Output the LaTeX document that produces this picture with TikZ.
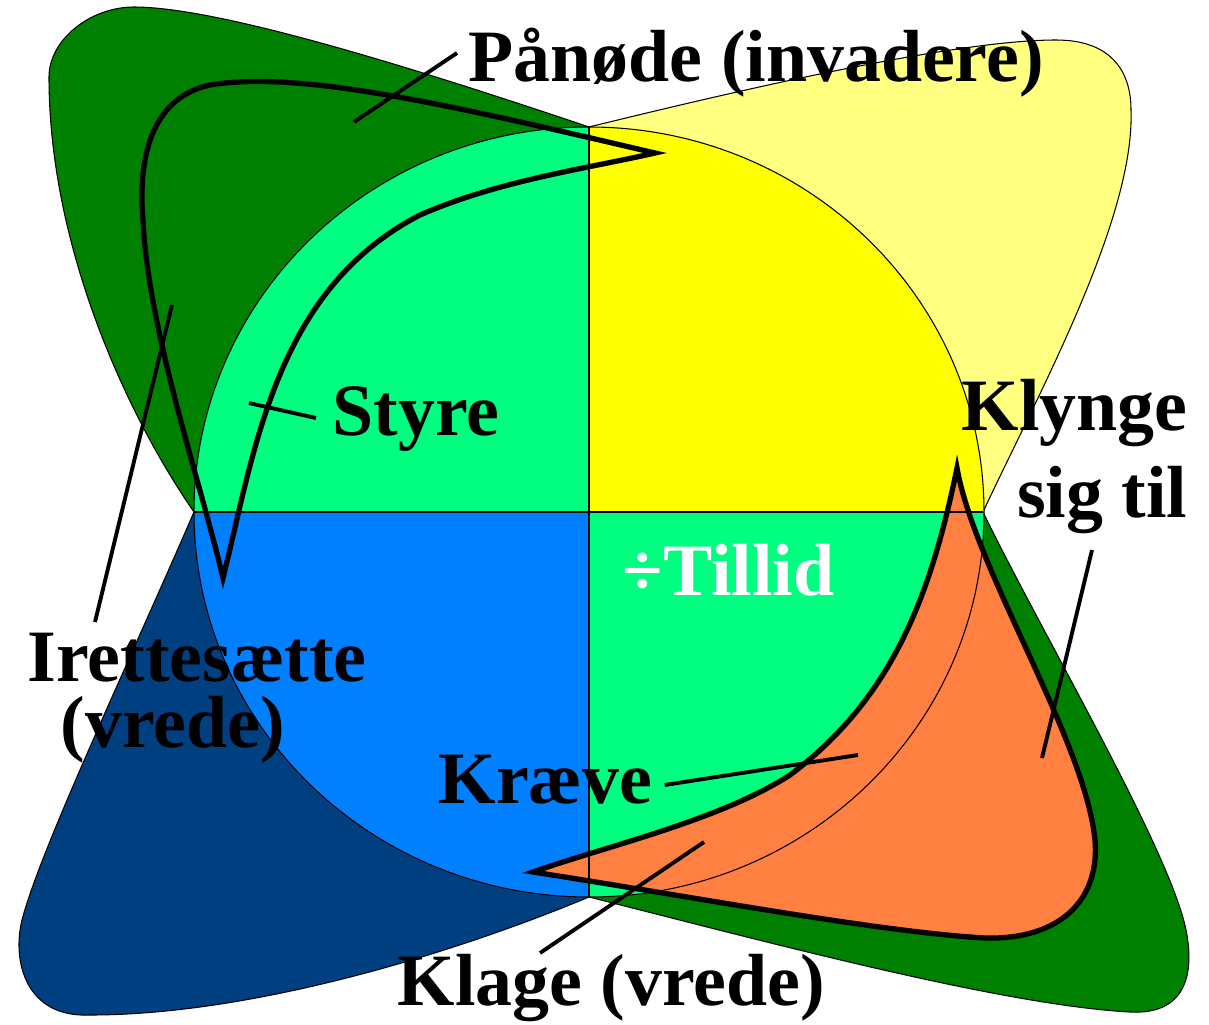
\documentclass[tikz,border=0pt]{standalone}
\usepackage{fontspec}
\setmainfont{Liberation Serif}
\definecolor{petalgreen}{RGB}{0,128,0}
\definecolor{petalyellow}{RGB}{255,255,128}
\definecolor{petalblue}{RGB}{0,64,128}
\definecolor{quadgreen}{RGB}{0,255,128}
\definecolor{quadyellow}{RGB}{255,255,0}
\definecolor{quadblue}{RGB}{0,128,255}
\definecolor{klyngeorange}{RGB}{255,128,64}
\begin{document}
\begin{tikzpicture}[x=0.01cm, y=-0.01cm, thinline/.style={line width=0.3pt},
    word/.style={font=\bfseries\fontsize{21}{25}\selectfont, inner sep=0pt},
    leader/.style={line width=1.1pt}, heavy/.style={line width=1.5pt, line join=miter}]
    \useasboundingbox (0,0) rectangle (1209,1024);
    \filldraw[thinline, fill=petalgreen] (589,127) .. controls (420,70) and (220,7) .. (134,7) .. controls (90,7) and (49,40) .. (49,77)
        .. controls (49,250) and (130,420) .. (194,512) -- cycle;
    \filldraw[thinline, fill=petalyellow] (589,127) .. controls (760,85) and (960,40) .. (1056,40) .. controls (1110,40) and (1131,70) .. (1131,110)
        .. controls (1135,220) and (1035,400) .. (983,512) -- cycle;
    \filldraw[thinline, fill=petalblue] (194,512) .. controls (130,660) and (40,850) .. (22,920) .. controls (12,960) and (25,1018) .. (90,1015)
        .. controls (250,1015) and (450,955) .. (589,897) -- cycle;
    \filldraw[thinline, fill=petalgreen] (983,512) .. controls (1040,630) and (1170,850) .. (1186,930) .. controls (1195,975) and (1185,1015) .. (1130,1012)
        .. controls (1000,1005) and (760,940) .. (589,897) -- cycle;
    \foreach \xa/\ya/\xb/\yb/\qc in {0/0/589/512/quadgreen, 589/0/1209/512/quadyellow, 0/512/589/1024/quadblue, 589/512/1209/1024/quadgreen}{
        \begin{scope}
            \clip (\xa,\ya) rectangle (\xb,\yb);
            \fill[\qc] (589,512) ellipse [x radius=395, y radius=385];
        \end{scope}
    }
    \path[save path=\klyngepath] (957,468) .. controls (930,600) and (890,700) .. (790,775) .. controls (720,820) and (610,845) .. (533,872)
        .. controls (700,898) and (880,932) .. (985,938) .. controls (1060,940) and (1100,900) .. (1095,840) .. controls (1085,740) and (975,570) .. (957,468) -- cycle;
    \fill[klyngeorange, use path=\klyngepath];
    \draw[thinline] (589,512) ellipse [x radius=395, y radius=385];
    \draw[thinline] (194,512) -- (983,512) (589,127) -- (589,897);
    \draw[heavy] (655,153) .. controls (450,105) and (300,70) .. (210,85) .. controls (150,98) and (138,160) .. (143,220)
        .. controls (148,330) and (200,480) .. (223,578) .. controls (255,450) and (275,290) .. (420,215) .. controls (500,180) and (590,168) .. (655,153) -- cycle;
    \draw[heavy, use path=\klyngepath];

    \node[word, anchor=base west] (panode) at (468,81) {Pånøde (invadere)};
    \node[word, anchor=base west] (styre) at (332,435) {Styre};
    \node[word, anchor=base east] (klynge) at (1188,430) {Klynge};
    \node[word, anchor=base east] (sigtil) at (1188,517) {sig til};
    \node[word, anchor=base west, text=white] (tillid) at (622,595) {÷Tillid};
    \node[word, anchor=base west] (irette) at (27,681) {Irettesætte};
    \node[word, anchor=base west] (vrede) at (60,747) {(vrede)};
    \node[word, anchor=base west] (kraeve) at (438,803) {Kræve};
    \node[word, anchor=base west] (klage) at (397,1005) {Klage (vrede)};

    \coordinate (panodept) at (354,122);
    \coordinate (styrept) at (249,403);
    \coordinate (irettept) at (172,305);
    \coordinate (kraevept) at (858,755);
    \coordinate (klagept) at (704,842);
    \coordinate (klyngept) at (1042,758);
    \draw[leader] ([shift={(-11,-28)}]panode.base west) -- (panodept);
    \draw[leader] ([shift={(-16,-17)}]styre.base west) -- (styrept);
    \draw[leader] ([shift={(68,-59)}]irette.base west) -- (irettept);
    \draw[leader] ([shift={(12,-18)}]kraeve.base east) -- (kraevept);
    \draw[leader] ([shift={(143,-52)}]klage.base west) -- (klagept);
    \draw[leader] ([shift={(-96,33)}]sigtil.base east) -- (klyngept);
\end{tikzpicture}
\end{document}
